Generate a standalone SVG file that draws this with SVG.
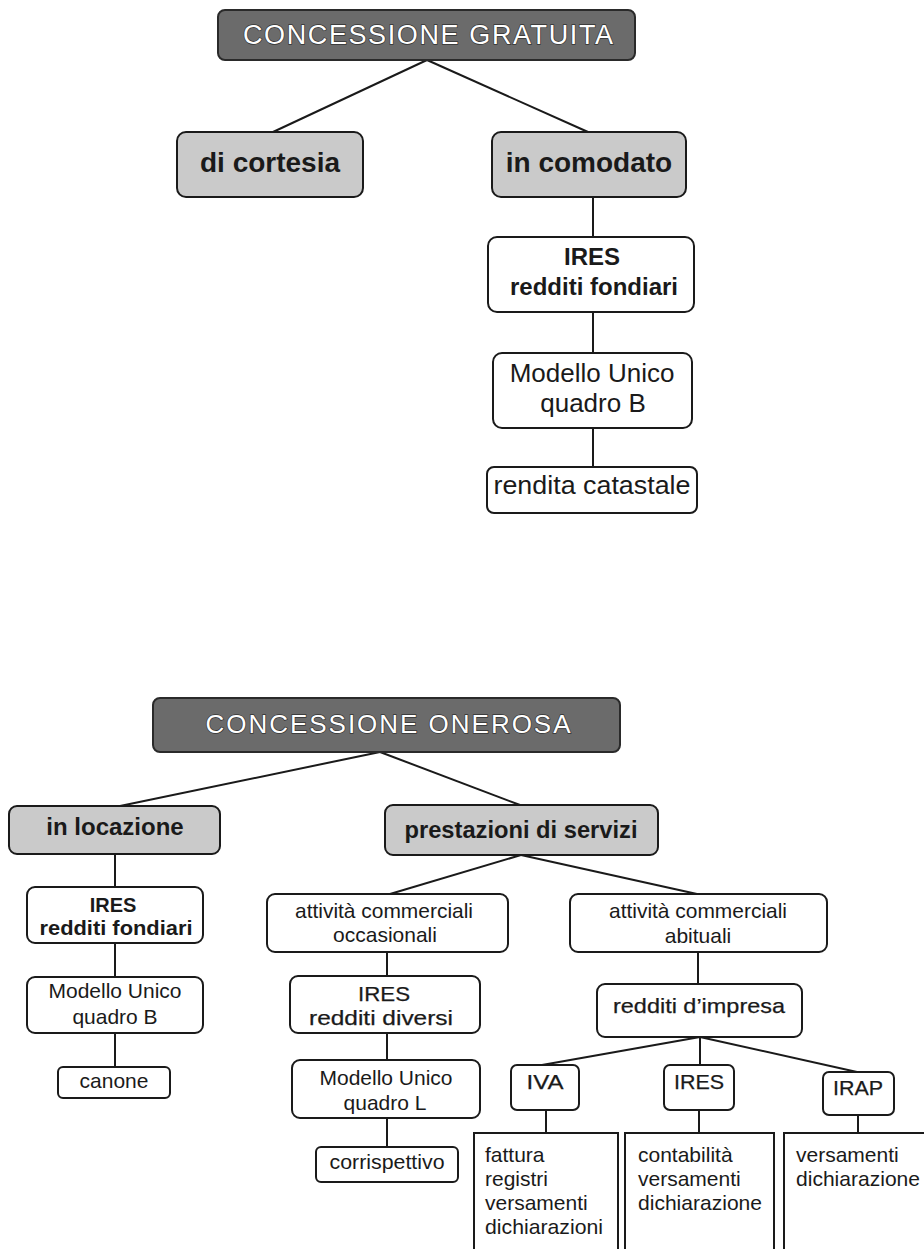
<svg xmlns="http://www.w3.org/2000/svg" width="924" height="1249" viewBox="0 0 924 1249">
<style>
.box{fill:#fff;stroke:#1a1a1a;stroke-width:2}
.sq{fill:#fff;stroke:#1a1a1a;stroke-width:2}
.hdr{fill:#6b6b6b;stroke:#2a2a2a;stroke-width:2}
.gry{fill:#cacaca;stroke:#1a1a1a;stroke-width:2}
.ln{stroke:#1a1a1a;stroke-width:2;fill:none}
text{font-family:"Liberation Sans",Arial,sans-serif;fill:#1a1a1a}
.ht{fill:#fff;stroke:#333;stroke-width:1.4;paint-order:stroke;font-size:27px}
.b{font-weight:bold}
.c{text-anchor:middle}
.m{stroke:#1a1a1a;stroke-width:0.25}
.s21{font-size:21px}
.s20{font-size:20px}
.s24{font-size:24px}
.s26{font-size:26px}
.s28{font-size:28px}
</style>
<rect width="924" height="1249" fill="#fff"/>
<g id="connectors">
<line class="ln" x1="427" y1="60" x2="273" y2="132"/>
<line class="ln" x1="427" y1="60" x2="588" y2="132"/>
<line class="ln" x1="593" y1="197" x2="593" y2="237"/>
<line class="ln" x1="593" y1="312" x2="593" y2="353"/>
<line class="ln" x1="593" y1="428" x2="593" y2="467"/>
<line class="ln" x1="380" y1="752" x2="120" y2="806"/>
<line class="ln" x1="380" y1="752" x2="520" y2="805"/>
<line class="ln" x1="115" y1="854" x2="115" y2="887"/>
<line class="ln" x1="115" y1="943" x2="115" y2="977"/>
<line class="ln" x1="115" y1="1033" x2="115" y2="1067"/>
<line class="ln" x1="521" y1="855" x2="390" y2="894"/>
<line class="ln" x1="521" y1="855" x2="697" y2="894"/>
<line class="ln" x1="387" y1="952" x2="387" y2="976"/>
<line class="ln" x1="387" y1="1033" x2="387" y2="1060"/>
<line class="ln" x1="387" y1="1118" x2="387" y2="1147"/>
<line class="ln" x1="698" y1="952" x2="698" y2="984"/>
<line class="ln" x1="700" y1="1037" x2="542" y2="1065"/>
<line class="ln" x1="700" y1="1037" x2="700" y2="1065"/>
<line class="ln" x1="700" y1="1037" x2="857" y2="1072"/>
<line class="ln" x1="546" y1="1110" x2="546" y2="1133"/>
<line class="ln" x1="699" y1="1110" x2="699" y2="1133"/>
<line class="ln" x1="858" y1="1115" x2="858" y2="1133"/>
</g>
<g id="concessione-gratuita">
<rect class="hdr" x="218" y="10" width="417" height="50" rx="7"/>
<text class="ht c" x="428" y="44" textLength="370" lengthAdjust="spacing">CONCESSIONE GRATUITA</text>
</g>
<g id="di-cortesia">
<rect class="gry" x="177" y="132" width="186" height="65" rx="9"/>
<text class="b c s28" x="270" y="172">di cortesia</text>
</g>
<g id="in-comodato">
<rect class="gry" x="492" y="132" width="194" height="65" rx="9"/>
<text class="b c s28" x="589" y="172">in comodato</text>
</g>
<g id="ires-fondiari-1">
<rect class="box" x="488" y="237" width="206" height="75" rx="9"/>
<text class="b c s24" x="592" y="265">IRES</text>
<text class="b c s24" x="594" y="295">redditi fondiari</text>
</g>
<g id="modello-b-1">
<rect class="box" x="493" y="353" width="199" height="75" rx="9"/>
<text class="c s26" x="592" y="382">Modello Unico</text>
<text class="c s26" x="593" y="412">quadro B</text>
</g>
<g id="rendita">
<rect class="box" x="487" y="467" width="210" height="46" rx="7"/>
<text class="c s26" x="592" y="494" textLength="197" lengthAdjust="spacingAndGlyphs">rendita catastale</text>
</g>
<g id="concessione-onerosa">
<rect class="hdr" x="153" y="698" width="467" height="54" rx="7"/>
<text class="ht c" x="388" y="733" textLength="365" lengthAdjust="spacing" style="font-size:26px">CONCESSIONE ONEROSA</text>
</g>
<g id="in-locazione">
<rect class="gry" x="9" y="806" width="211" height="48" rx="8"/>
<text class="b c s24" x="115" y="835">in locazione</text>
</g>
<g id="prestazioni">
<rect class="gry" x="385" y="805" width="273" height="50" rx="8"/>
<text class="b c s24" x="521" y="838" textLength="233" lengthAdjust="spacingAndGlyphs">prestazioni di servizi</text>
</g>
<g id="ires-fondiari-2">
<rect class="box" x="27" y="887" width="176" height="56" rx="8"/>
<text class="b c s20" x="113" y="912">IRES</text>
<text class="b c s20" x="116" y="935" textLength="153" lengthAdjust="spacingAndGlyphs">redditi fondiari</text>
</g>
<g id="modello-b-2">
<rect class="box" x="27" y="977" width="176" height="56" rx="8"/>
<text class="c s21" x="115" y="998">Modello Unico</text>
<text class="c s21" x="115" y="1024">quadro B</text>
</g>
<g id="canone">
<rect class="box" x="58" y="1067" width="112" height="31" rx="5"/>
<text class="c s21" x="114" y="1088">canone</text>
</g>
<g id="occasionali">
<rect class="box" x="267" y="894" width="241" height="58" rx="8"/>
<text class="c s21" x="384" y="918" textLength="178" lengthAdjust="spacingAndGlyphs">attività commerciali</text>
<text class="c s21" x="385" y="942">occasionali</text>
</g>
<g id="ires-diversi">
<rect class="box" x="290" y="976" width="190" height="57" rx="8"/>
<text class="c s21 m" x="384" y="1001" textLength="52" lengthAdjust="spacingAndGlyphs">IRES</text>
<text class="c s21 m" x="381" y="1025" textLength="144" lengthAdjust="spacingAndGlyphs">redditi diversi</text>
</g>
<g id="modello-l">
<rect class="box" x="292" y="1060" width="188" height="58" rx="8"/>
<text class="c s21" x="386" y="1085">Modello Unico</text>
<text class="c s21" x="385" y="1110">quadro L</text>
</g>
<g id="corrispettivo">
<rect class="box" x="316" y="1147" width="142" height="35" rx="5"/>
<text class="c s21" x="387" y="1169" textLength="115" lengthAdjust="spacingAndGlyphs">corrispettivo</text>
</g>
<g id="abituali">
<rect class="box" x="570" y="894" width="257" height="58" rx="8"/>
<text class="c s21" x="698" y="918" textLength="178" lengthAdjust="spacingAndGlyphs">attività commerciali</text>
<text class="c s21" x="698" y="943">abituali</text>
</g>
<g id="redditi-impresa">
<rect class="box" x="597" y="984" width="205" height="53" rx="8"/>
<text class="c s21 m" x="699" y="1013" textLength="172" lengthAdjust="spacingAndGlyphs">redditi d’impresa</text>
</g>
<g id="iva">
<rect class="box" x="511" y="1065" width="68" height="45" rx="6"/>
<text class="c s21 m" x="545" y="1089" textLength="37" lengthAdjust="spacingAndGlyphs">IVA</text>
</g>
<g id="ires">
<rect class="box" x="664" y="1065" width="70" height="45" rx="6"/>
<text class="c s21 m" x="699" y="1089" textLength="50" lengthAdjust="spacingAndGlyphs">IRES</text>
</g>
<g id="irap">
<rect class="box" x="823" y="1072" width="71" height="43" rx="6"/>
<text class="c s21 m" x="858" y="1095" textLength="50" lengthAdjust="spacingAndGlyphs">IRAP</text>
</g>
<g id="iva-adempimenti">
<rect class="sq" x="474" y="1133" width="144" height="130"/>
<text class="s21" x="485" y="1162">fattura</text>
<text class="s21" x="485" y="1186">registri</text>
<text class="s21" x="485" y="1210">versamenti</text>
<text class="s21" x="485" y="1234" textLength="118" lengthAdjust="spacingAndGlyphs">dichiarazioni</text>
</g>
<g id="ires-adempimenti">
<rect class="sq" x="625" y="1133" width="149" height="130"/>
<text class="s21" x="638" y="1162">contabilità</text>
<text class="s21" x="638" y="1186">versamenti</text>
<text class="s21" x="638" y="1210" textLength="124" lengthAdjust="spacingAndGlyphs">dichiarazione</text>
</g>
<g id="irap-adempimenti">
<rect class="sq" x="784" y="1133" width="150" height="130"/>
<text class="s21" x="796" y="1162">versamenti</text>
<text class="s21" x="796" y="1186" textLength="124" lengthAdjust="spacingAndGlyphs">dichiarazione</text>
</g>
</svg>
